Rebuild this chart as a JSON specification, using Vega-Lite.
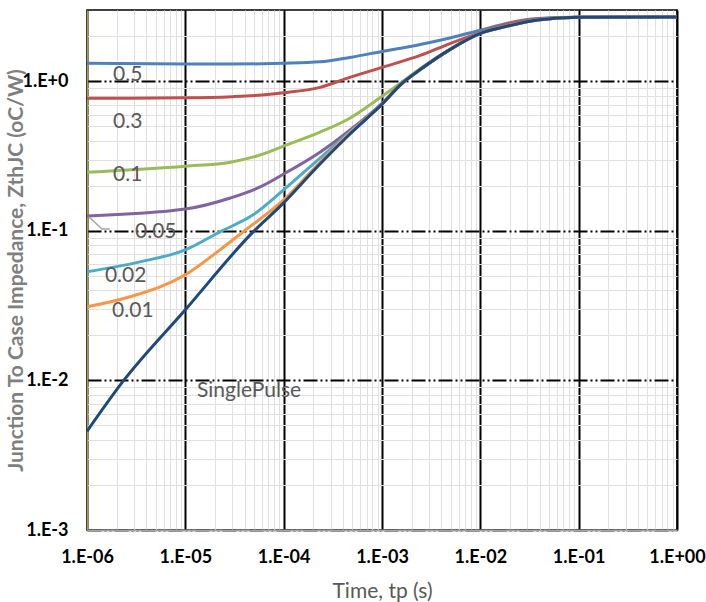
{
  "$schema": "https://vega.github.io/schema/vega-lite/v6.json",
  "width": 590,
  "height": 520,
  "autosize": {"type": "none"},
  "padding": {"left": 87, "top": 10, "right": 29, "bottom": 72},
  "background": "white",
  "config": {"view": {"stroke": "black", "strokeWidth": 1.5}},
  "datasets": {
    "curves": [
      {"s": "0.5", "t": 1e-6, "z": 1.32}, {"s": "0.5", "t": 1e-5, "z": 1.305}, {"s": "0.5", "t": 3e-5, "z": 1.305}, {"s": "0.5", "t": 6e-5, "z": 1.31}, {"s": "0.5", "t": 1e-4, "z": 1.32}, {"s": "0.5", "t": 2.34e-4, "z": 1.35}, {"s": "0.5", "t": 4.7e-4, "z": 1.445}, {"s": "0.5", "t": 1e-3, "z": 1.585}, {"s": "0.5", "t": 2.45e-3, "z": 1.765}, {"s": "0.5", "t": 4.9e-3, "z": 1.95}, {"s": "0.5", "t": 1e-2, "z": 2.2}, {"s": "0.5", "t": 2e-2, "z": 2.47}, {"s": "0.5", "t": 3.8e-2, "z": 2.63}, {"s": "0.5", "t": 0.1, "z": 2.68}, {"s": "0.5", "t": 1, "z": 2.69},
      {"s": "0.3", "t": 1e-6, "z": 0.77}, {"s": "0.3", "t": 1e-5, "z": 0.776}, {"s": "0.3", "t": 3e-5, "z": 0.79}, {"s": "0.3", "t": 6e-5, "z": 0.81}, {"s": "0.3", "t": 1e-4, "z": 0.838}, {"s": "0.3", "t": 2.34e-4, "z": 0.912}, {"s": "0.3", "t": 4.7e-4, "z": 1.063}, {"s": "0.3", "t": 1e-3, "z": 1.24}, {"s": "0.3", "t": 2.45e-3, "z": 1.49}, {"s": "0.3", "t": 4.9e-3, "z": 1.79}, {"s": "0.3", "t": 1e-2, "z": 2.12}, {"s": "0.3", "t": 2e-2, "z": 2.44}, {"s": "0.3", "t": 3.8e-2, "z": 2.61}, {"s": "0.3", "t": 0.1, "z": 2.68}, {"s": "0.3", "t": 1, "z": 2.69},
      {"s": "0.1", "t": 1e-6, "z": 0.247}, {"s": "0.1", "t": 1e-5, "z": 0.271}, {"s": "0.1", "t": 2.87e-5, "z": 0.288}, {"s": "0.1", "t": 5.7e-5, "z": 0.321}, {"s": "0.1", "t": 1e-4, "z": 0.369}, {"s": "0.1", "t": 2.34e-4, "z": 0.457}, {"s": "0.1", "t": 4.7e-4, "z": 0.567}, {"s": "0.1", "t": 1e-3, "z": 0.794}, {"s": "0.1", "t": 1.6e-3, "z": 0.99}, {"s": "0.1", "t": 2.45e-3, "z": 1.22}, {"s": "0.1", "t": 4.9e-3, "z": 1.64}, {"s": "0.1", "t": 1e-2, "z": 2.1}, {"s": "0.1", "t": 2e-2, "z": 2.37}, {"s": "0.1", "t": 3.8e-2, "z": 2.58}, {"s": "0.1", "t": 0.1, "z": 2.68}, {"s": "0.1", "t": 1, "z": 2.69},
      {"s": "0.05", "t": 1e-6, "z": 0.126}, {"s": "0.05", "t": 1e-5, "z": 0.14}, {"s": "0.05", "t": 2.87e-5, "z": 0.166}, {"s": "0.05", "t": 5.7e-5, "z": 0.196}, {"s": "0.05", "t": 1e-4, "z": 0.24}, {"s": "0.05", "t": 2.34e-4, "z": 0.336}, {"s": "0.05", "t": 4.7e-4, "z": 0.471}, {"s": "0.05", "t": 1e-3, "z": 0.714}, {"s": "0.05", "t": 1.6e-3, "z": 0.975}, {"s": "0.05", "t": 2.45e-3, "z": 1.2}, {"s": "0.05", "t": 4.9e-3, "z": 1.63}, {"s": "0.05", "t": 1e-2, "z": 2.09}, {"s": "0.05", "t": 2e-2, "z": 2.36}, {"s": "0.05", "t": 3.8e-2, "z": 2.57}, {"s": "0.05", "t": 0.1, "z": 2.68}, {"s": "0.05", "t": 1, "z": 2.69},
      {"s": "0.02", "t": 1e-6, "z": 0.0533}, {"s": "0.02", "t": 3.46e-6, "z": 0.0621}, {"s": "0.02", "t": 1e-5, "z": 0.0747}, {"s": "0.02", "t": 2.25e-5, "z": 0.0985}, {"s": "0.02", "t": 4.89e-5, "z": 0.128}, {"s": "0.02", "t": 1e-4, "z": 0.188}, {"s": "0.02", "t": 2.34e-4, "z": 0.307}, {"s": "0.02", "t": 4.7e-4, "z": 0.457}, {"s": "0.02", "t": 1e-3, "z": 0.703}, {"s": "0.02", "t": 1.6e-3, "z": 0.97}, {"s": "0.02", "t": 2.45e-3, "z": 1.2}, {"s": "0.02", "t": 4.9e-3, "z": 1.63}, {"s": "0.02", "t": 1e-2, "z": 2.09}, {"s": "0.02", "t": 2e-2, "z": 2.36}, {"s": "0.02", "t": 3.8e-2, "z": 2.57}, {"s": "0.02", "t": 0.1, "z": 2.68}, {"s": "0.02", "t": 1, "z": 2.69},
      {"s": "0.01", "t": 1e-6, "z": 0.0311}, {"s": "0.01", "t": 2.74e-6, "z": 0.0363}, {"s": "0.01", "t": 1e-5, "z": 0.0509}, {"s": "0.01", "t": 2.25e-5, "z": 0.0747}, {"s": "0.01", "t": 3.87e-5, "z": 0.0985}, {"s": "0.01", "t": 1e-4, "z": 0.161}, {"s": "0.01", "t": 2.34e-4, "z": 0.288}, {"s": "0.01", "t": 4.7e-4, "z": 0.45}, {"s": "0.01", "t": 1e-3, "z": 0.703}, {"s": "0.01", "t": 1.6e-3, "z": 0.97}, {"s": "0.01", "t": 2.45e-3, "z": 1.2}, {"s": "0.01", "t": 4.9e-3, "z": 1.63}, {"s": "0.01", "t": 1e-2, "z": 2.09}, {"s": "0.01", "t": 2e-2, "z": 2.36}, {"s": "0.01", "t": 3.8e-2, "z": 2.57}, {"s": "0.01", "t": 0.1, "z": 2.68}, {"s": "0.01", "t": 1, "z": 2.69},
      {"s": "SinglePulse", "t": 1e-6, "z": 0.00457}, {"s": "SinglePulse", "t": 2.32e-6, "z": 0.00985}, {"s": "SinglePulse", "t": 1e-5, "z": 0.0297}, {"s": "SinglePulse", "t": 4.89e-5, "z": 0.0985}, {"s": "SinglePulse", "t": 1e-4, "z": 0.154}, {"s": "SinglePulse", "t": 2.34e-4, "z": 0.28}, {"s": "SinglePulse", "t": 4.7e-4, "z": 0.443}, {"s": "SinglePulse", "t": 1e-3, "z": 0.703}, {"s": "SinglePulse", "t": 1.6e-3, "z": 0.97}, {"s": "SinglePulse", "t": 2.45e-3, "z": 1.2}, {"s": "SinglePulse", "t": 4.9e-3, "z": 1.63}, {"s": "SinglePulse", "t": 1e-2, "z": 2.09}, {"s": "SinglePulse", "t": 2e-2, "z": 2.36}, {"s": "SinglePulse", "t": 3.8e-2, "z": 2.57}, {"s": "SinglePulse", "t": 0.1, "z": 2.68}, {"s": "SinglePulse", "t": 1, "z": 2.69}
    ],
    "labels": [
      {"label": "0.5", "t": 1.84e-6, "z": 1.11},
      {"label": "0.3", "t": 1.84e-6, "z": 0.535},
      {"label": "0.1", "t": 1.84e-6, "z": 0.236},
      {"label": "0.05", "t": 3.08e-6, "z": 0.099},
      {"label": "0.02", "t": 1.52e-6, "z": 0.0496},
      {"label": "0.01", "t": 1.8e-6, "z": 0.029},
      {"label": "SinglePulse", "t": 1.315e-5, "z": 0.0085}
    ],
    "leader": [
      {"t": 1.05e-6, "z": 0.124},
      {"t": 1.42e-6, "z": 0.103},
      {"t": 1.71e-6, "z": 0.103}
    ]
  },
  "layer": [
    {
      "data": {"name": "curves"},
      "mark": {"type": "line", "strokeWidth": 3, "interpolate": "monotone", "clip": true},
      "encoding": {
        "x": {
          "field": "t", "type": "quantitative",
          "scale": {"type": "log", "domain": [1e-6, 1], "nice": false},
          "axis": {
            "title": "Time, tp (s)",
            "values": [1e-6, 2e-6, 3e-6, 4e-6, 5e-6, 6e-6, 7e-6, 8e-6, 9e-6, 1e-5, 2e-5, 3e-5, 4e-5, 5e-5, 6e-5, 7e-5, 8e-5, 9e-5, 1e-4, 2e-4, 3e-4, 4e-4, 5e-4, 6e-4, 7e-4, 8e-4, 9e-4, 1e-3, 2e-3, 3e-3, 4e-3, 5e-3, 6e-3, 7e-3, 8e-3, 9e-3, 1e-2, 2e-2, 3e-2, 4e-2, 5e-2, 6e-2, 7e-2, 8e-2, 9e-2, 0.1, 0.2, 0.3, 0.4, 0.5, 0.6, 0.7, 0.8, 0.9, 1],
            "labelExpr": "abs(log(datum.value)/LN10 - round(log(datum.value)/LN10)) < 0.01 ? '1.E' + (round(log(datum.value)/LN10) < 0 ? '-' : '+') + (abs(round(log(datum.value)/LN10)) < 10 ? '0' : '') + abs(round(log(datum.value)/LN10)) : ''",
            "labelFont": "Lato", "labelFontWeight": "bold", "labelFontSize": 18, "labelColor": "black",
            "labelPadding": 18, "labelOverlap": false, "labelBound": false, "labelFlush": false,
            "ticks": false,
            "grid": true,
            "gridColor": {"condition": {"test": "abs(log(datum.value)/LN10 - round(log(datum.value)/LN10)) < 0.01", "value": "black"}, "value": "#e0e0e0"},
            "gridWidth": {"condition": {"test": "abs(log(datum.value)/LN10 - round(log(datum.value)/LN10)) < 0.01", "value": 2}, "value": 1},
            "domainColor": "#a6a6a6", "domainWidth": 2,
            "titleFont": "Lato", "titleFontSize": 21, "titleFontWeight": "normal", "titleColor": "#595959", "titlePadding": 14
          }
        },
        "y": {
          "field": "z", "type": "quantitative",
          "scale": {"type": "log", "domain": [0.001, 3], "nice": false},
          "axis": {
            "title": "Junction To Case Impedance, ZthJC (oC/W)",
            "values": [0.001, 0.002, 0.003, 0.004, 0.005, 0.006, 0.007, 0.008, 0.009, 0.01, 0.02, 0.03, 0.04, 0.05, 0.06, 0.07, 0.08, 0.09, 0.1, 0.2, 0.3, 0.4, 0.5, 0.6, 0.7, 0.8, 0.9, 1, 2],
            "labelExpr": "abs(log(datum.value)/LN10 - round(log(datum.value)/LN10)) < 0.01 ? '1.E' + (round(log(datum.value)/LN10) < 0 ? '-' : '+') + abs(round(log(datum.value)/LN10)) : ''",
            "labelFont": "Lato", "labelFontWeight": "bold", "labelFontSize": 18, "labelColor": "black",
            "labelPadding": 19, "labelOverlap": false, "labelBound": false, "labelFlush": false,
            "ticks": false,
            "grid": true,
            "gridColor": {"condition": {"test": "abs(log(datum.value)/LN10 - round(log(datum.value)/LN10)) < 0.01", "value": "black"}, "value": "#e0e0e0"},
            "gridWidth": {"condition": {"test": "abs(log(datum.value)/LN10 - round(log(datum.value)/LN10)) < 0.01", "value": 2}, "value": 1},
            "gridDash": {"condition": {"test": "abs(log(datum.value)/LN10 - round(log(datum.value)/LN10)) < 0.01", "value": [14, 3, 2, 3, 2, 3]}, "value": []},
            "domainColor": "#a39e5e", "domainWidth": 1.5,
            "titleFont": "Lato", "titleFontSize": 21, "titleFontWeight": "bold", "titleColor": "#7f7f7f", "titlePadding": -4
          }
        },
        "color": {
          "field": "s", "type": "nominal",
          "scale": {"domain": ["0.5", "0.3", "0.1", "0.05", "0.02", "0.01", "SinglePulse"], "range": ["#4F81BD", "#C0504D", "#9BBB59", "#8064A2", "#4BACC6", "#F79646", "#1F497D"]},
          "legend": null
        }
      }
    },
    {
      "data": {"name": "leader"},
      "mark": {"type": "line", "color": "#a6a6a6", "strokeWidth": 1.5},
      "encoding": {
        "x": {"field": "t", "type": "quantitative"},
        "y": {"field": "z", "type": "quantitative"}
      }
    },
    {
      "data": {"name": "labels"},
      "mark": {"type": "text", "align": "left", "baseline": "middle", "font": "Lato", "fontSize": 21, "color": "#595959"},
      "encoding": {
        "x": {"field": "t", "type": "quantitative"},
        "y": {"field": "z", "type": "quantitative"},
        "text": {"field": "label"}
      }
    }
  ]
}
